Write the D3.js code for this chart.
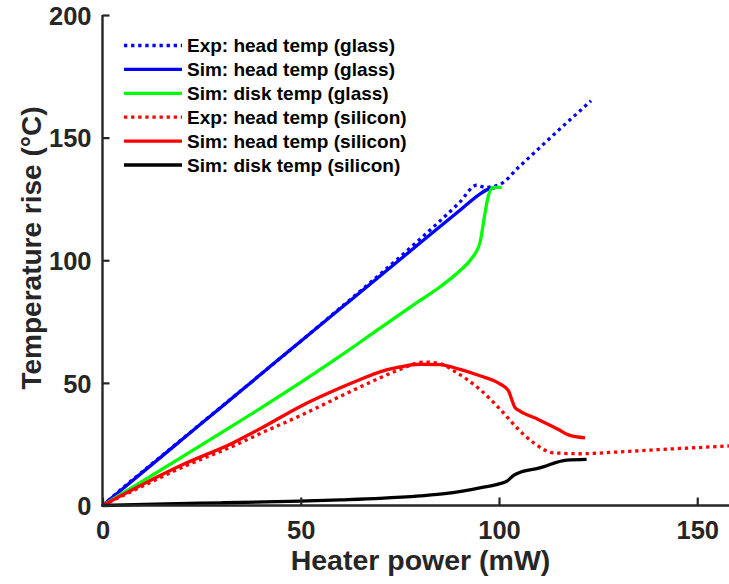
<!DOCTYPE html>
<html>
<head>
<meta charset="utf-8">
<script src="https://cdn.jsdelivr.net/npm/d3@7"></script>
<style>
  html, body { margin: 0; padding: 0; background: #fff; }
  svg { display: block; font-family: "Liberation Sans", Arial, Helvetica, sans-serif; }
</style>
</head>
<body>
<svg id="chart" width="729" height="584"></svg>
<script>
// ---- data ----
const xTicks = [0, 50, 100, 150];
const yTicks = [0, 50, 100, 150, 200];

const seriesNames = [
  "Exp: head temp (glass)",
  "Sim: head temp (glass)",
  "Sim: disk temp (glass)",
  "Exp: head temp (silicon)",
  "Sim: head temp (silicon)",
  "Sim: disk temp (silicon)"
];

const expGlassX = [0, 5, 10, 20, 30, 40, 50, 60, 70, 80, 90, 94.4, 96.5, 100.3, 105, 110, 115, 120, 123.2];
const expGlassY = [0, 7, 13.7, 27, 40.3, 53.6, 67, 80.6, 94.3, 108.5, 123.5, 130.6, 129.7, 131, 138, 145.5, 153, 160.3, 165];

const simHeadGlassX = [0, 10, 20, 30, 40, 50, 60, 70, 80, 90, 95, 97, 99.4];
const simHeadGlassY = [0, 13.4, 26.8, 40.2, 53.6, 67, 80.3, 93.6, 106.9, 120.2, 126.8, 128.8, 129.7];

const simDiskGlassX = [0, 10, 20, 30, 40, 50, 60, 70, 80, 85, 90, 93, 95.2, 96.5, 97.3, 98.6, 100.7];
const simDiskGlassY = [0, 9.8, 19.7, 29.7, 39.8, 50.2, 61, 72.3, 83.5, 89, 95.5, 100.5, 107.2, 119.5, 126.2, 129.7, 129.7];

const expSiliconX = [0, 10, 20, 32.9, 40, 49.7, 60, 69.1, 75, 80.9, 84.7, 89.3, 95.2, 100.3, 104.5, 108.7, 113.7, 120.5, 129.7, 141.5, 150, 158];
const expSiliconY = [0, 7.8, 15.5, 24.2, 29.5, 36.5, 44.5, 51.4, 55.5, 58.5, 58, 54.2, 47.3, 39.2, 31.7, 25.6, 21.5, 21.1, 21.8, 22.9, 23.6, 24.3];

const simHeadSiliconX = [0, 5, 10, 20, 33, 40, 50, 60, 65, 70, 75, 80, 85, 90, 95, 100, 102.4, 103.2, 104, 105.3, 110, 115, 117.5, 121.7];
const simHeadSiliconY = [0, 4.3, 8.5, 16.5, 25.6, 31.5, 40.5, 48, 51.4, 54.5, 56.5, 57.6, 57.4, 55.6, 53, 49.8, 46.7, 43.3, 40, 38.5, 35, 31, 28.8, 27.6];

const simDiskSiliconX = [0, 16, 30, 49.7, 60, 70, 80, 86.8, 95.2, 100, 102, 103.6, 104.9, 110, 117.1, 122.1];
const simDiskSiliconY = [0, 0.7, 1.1, 1.8, 2.3, 2.9, 3.9, 4.9, 7.2, 8.8, 9.9, 12.2, 13.3, 15.2, 18.5, 18.8];

// ---- styles ----
const styles = [
  { color: "#0000ff", dotted: true },
  { color: "#0000ff", dotted: false },
  { color: "#00ff00", dotted: false },
  { color: "#ff0000", dotted: true },
  { color: "#ff0000", dotted: false },
  { color: "#000000", dotted: false }
];
const seriesXY = [
  [expGlassX, expGlassY],
  [simHeadGlassX, simHeadGlassY],
  [simDiskGlassX, simDiskGlassY],
  [expSiliconX, expSiliconY],
  [simHeadSiliconX, simHeadSiliconY],
  [simDiskSiliconX, simDiskSiliconY]
];

// ---- layout ----
const svg = d3.select("#chart");
const x0 = 102.5, pxPerMW = 3.965;
const x = d3.scaleLinear().domain([0, 160]).range([x0, x0 + 160 * pxPerMW]);
const y = d3.scaleLinear().domain([0, 200]).range([505.5, 15]);
const axisColor = "#262626";

// clip
svg.append("defs").append("clipPath").attr("id", "plotclip")
  .append("rect").attr("x", x0).attr("y", 13).attr("width", 729 - x0).attr("height", 505.5 - 13 + 2);

// lines
const line = d3.line().x(d => x(d[0])).y(d => y(d[1])).curve(d3.curveMonotoneX);
const gLines = svg.append("g").attr("clip-path", "url(#plotclip)");
seriesXY.forEach((s, i) => {
  const pts = s[0].map((v, k) => [v, s[1][k]]);
  gLines.append("path")
    .attr("d", line(pts))
    .attr("fill", "none")
    .attr("stroke", styles[i].color)
    .attr("stroke-width", 3.3)
    .attr("stroke-dasharray", styles[i].dotted ? "3.3,3.8" : null)
    .attr("stroke-linejoin", "round");
});

// axes
const xAxis = d3.axisBottom(x).tickValues(xTicks).tickSize(-8).tickPadding(17).tickFormat(d3.format("d"));
const yAxis = d3.axisLeft(y).tickValues(yTicks).tickSize(-7).tickPadding(11).tickFormat(d3.format("d"));

const gx = svg.append("g").attr("transform", `translate(0,${y(0)})`).call(xAxis);
const gy = svg.append("g").attr("transform", `translate(${x0},0)`).call(yAxis);

[gx, gy].forEach(g => {
  g.select(".domain").remove();
  g.selectAll(".tick line").attr("stroke", axisColor).attr("stroke-width", 2.2);
  g.selectAll(".tick text").attr("fill", axisColor).attr("font-size", 25.5).attr("font-weight", "bold")
    .attr("font-family", "'Liberation Sans', Arial, sans-serif");
});
gx.selectAll(".tick text").attr("dy", null).attr("y", 33.5);
gy.selectAll(".tick text").attr("dy", "0.36em");

// axis lines
svg.append("line").attr("x1", x0).attr("x2", x0).attr("y1", 15).attr("y2", y(0) + 1.2)
  .attr("stroke", axisColor).attr("stroke-width", 2.4);
svg.append("line").attr("x1", x0 - 1.2).attr("x2", 729).attr("y1", y(0)).attr("y2", y(0))
  .attr("stroke", axisColor).attr("stroke-width", 2.4);

// axis labels
svg.append("text").attr("x", 420.5).attr("y", 569.5).attr("text-anchor", "middle")
  .attr("font-size", 28.5).attr("font-weight", "bold").attr("fill", axisColor)
  .text("Heater power (mW)");
svg.append("text").attr("transform", "translate(41,248) rotate(-90)").attr("text-anchor", "middle")
  .attr("font-size", 28).attr("font-weight", "bold").attr("fill", axisColor)
  .text("Temperature rise (\u00B0C)");

// legend
const legend = svg.append("g");
seriesNames.forEach((name, i) => {
  const ly = 45.5 + i * 23.9;
  legend.append("line").attr("x1", 124).attr("x2", 182).attr("y1", ly).attr("y2", ly)
    .attr("stroke", styles[i].color).attr("stroke-width", 3.3)
    .attr("stroke-dasharray", styles[i].dotted ? "3.3,3.8" : null);
  legend.append("text").attr("x", 187).attr("y", ly).attr("dy", "0.36em")
    .attr("font-size", 19).attr("font-weight", "bold").attr("fill", "#000")
    .text(name);
});
</script>
</body>
</html>
